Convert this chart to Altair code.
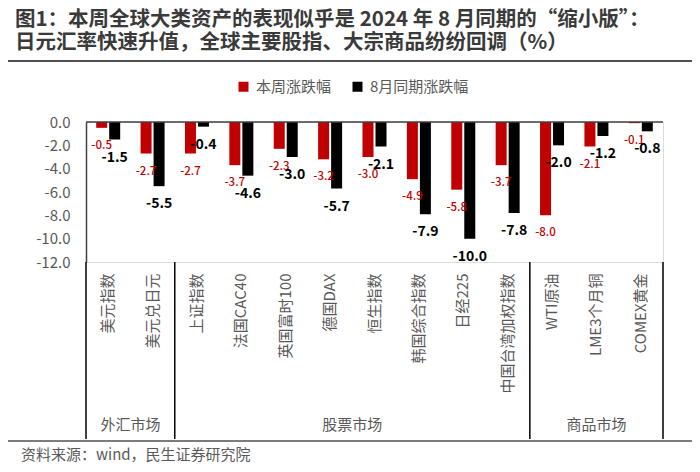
import altair as alt
import pandas as pd

# ---------------- data ----------------
categories = ["美元指数", "美元兑日元", "上证指数", "法国CAC40", "英国富时100", "德国DAX",
              "恒生指数", "韩国综合指数", "日经225", "中国台湾加权指数",
              "WTI原油", "LME3个月铜", "COMEX黄金"]
series_names = ["本周涨跌幅", "8月同期涨跌幅"]
this_week = [-0.5, -2.7, -2.7, -3.7, -2.3, -3.2, -3.0, -4.9, -5.8, -3.7, -8.0, -2.1, -0.1]
aug_2024 = [-1.5, -5.5, -0.4, -4.6, -3.0, -5.7, -2.1, -7.9, -10.0, -7.8, -2.0, -1.2, -0.8]
y_ticks = [0, -2, -4, -6, -8, -10, -12]
groups = ["外汇市场", "股票市场", "商品市场"]
group_sizes = [2, 8, 3]

title1 = "图1：本周全球大类资产的表现似乎是 2024 年 8 月同期的“缩小版”："
title2 = "日元汇率快速升值，全球主要股指、大宗商品纷纷回调（%）"
source = "资料来源：wind，民生证券研究院"

FONT = "Noto Sans CJK SC"
RED = "#C00000"
BLACK = "#000000"
GRAY = "#595959"

rows = []
for c, a, b in zip(categories, this_week, aug_2024):
    rows.append({"cat": c, "series": series_names[0], "value": a, "label": f"{a:.1f}"})
    rows.append({"cat": c, "series": series_names[1], "value": b, "label": f"{b:.1f}"})
df = pd.DataFrame(rows)

# group boundaries and centres
sep_left, grp_even, grp_odd = [], [], []
start = 0
for g, n in zip(groups, group_sizes):
    sep_left.append({"cat": categories[start]})
    if n % 2 == 0:
        grp_even.append({"cat": categories[start + n // 2 - 1], "g": g})
    else:
        grp_odd.append({"cat": categories[start + n // 2], "g": g})
    start += n
sep_right = [{"cat": categories[-1]}]

x_scale = alt.Scale(domain=categories, paddingInner=0, paddingOuter=0)
x_axis = alt.Axis(title=None, orient="bottom", labelAngle=270, labelAlign="right",
                  labelBaseline="middle", labelPadding=11, ticks=False, domain=False,
                  labelFontSize=15, labelColor=GRAY, labelFont=FONT, labelOverlap=False)
y_scale = alt.Scale(domain=[-12, 0], nice=False, zero=True)
y_axis = alt.Axis(title=None, values=y_ticks, grid=False, ticks=False, domain=True,
                  domainColor="#404040", domainWidth=1.5, labelPadding=16, labelFontSize=15,
                  labelColor=GRAY, labelFont=FONT, labelOverlap=False, labelBound=False,
                  labelExpr="replace(format(datum.value, '.1f'), '\u2212', '-')")
xoff_scale = alt.Scale(domain=series_names, paddingInner=0.154, paddingOuter=0.784)

X = alt.X("cat:N", sort=categories, scale=x_scale, axis=x_axis)
Y = alt.Y("value:Q", scale=y_scale, axis=y_axis)
XO = alt.XOffset("series:N", sort=series_names, scale=xoff_scale)

base = alt.Chart(df)

bars = base.mark_bar().encode(
    x=X, xOffset=XO, y=Y,
    color=alt.Color("series:N", sort=series_names,
                    scale=alt.Scale(domain=series_names, range=[RED, BLACK]),
                    legend=alt.Legend(title=None, orient="none", legendX=150, legendY=-43,
                                      direction="horizontal", symbolType="square",
                                      symbolSize=100, symbolStrokeWidth=0,
                                      labelFontSize=15, labelColor=GRAY, labelFont=FONT,
                                      columnPadding=18, labelOffset=5, padding=0)),
)

lab_red = base.transform_filter(alt.datum.series == series_names[0]).mark_text(
    dy=18, baseline="middle", align="center", fontSize=11.5, color=RED, font=FONT,
    fontWeight=500
).encode(x=X, xOffset=XO, y=Y, text="label:N")
lab_black = base.transform_filter(alt.datum.series == series_names[1]).mark_text(
    dy=18, baseline="middle", align="center", fontSize=14, fontWeight="bold",
    color=BLACK, font=FONT
).encode(x=X, xOffset=XO, y=Y, text="label:N")

zero_rule = alt.Chart(pd.DataFrame({"value": [0]})).mark_rule(
    color="#404040", strokeWidth=1.5).encode(y=Y)

seps_l = alt.Chart(pd.DataFrame(sep_left)).mark_rule(color=BLACK, strokeWidth=1.5).encode(
    x=alt.X("cat:N", sort=categories, scale=x_scale, axis=x_axis, bandPosition=0),
    y=alt.value(140), y2=alt.value(317))
seps_r = alt.Chart(pd.DataFrame(sep_right)).mark_rule(color=BLACK, strokeWidth=1.5).encode(
    x=alt.X("cat:N", sort=categories, scale=x_scale, axis=x_axis, bandPosition=1),
    y=alt.value(140), y2=alt.value(317))

g_even = alt.Chart(pd.DataFrame(grp_even)).mark_text(
    fontSize=15, color=GRAY, font=FONT, baseline="middle", align="center").encode(
    x=alt.X("cat:N", sort=categories, scale=x_scale, axis=x_axis, bandPosition=1),
    y=alt.value(303), text="g:N")
g_odd = alt.Chart(pd.DataFrame(grp_odd)).mark_text(
    fontSize=15, color=GRAY, font=FONT, baseline="middle", align="center").encode(
    x=alt.X("cat:N", sort=categories, scale=x_scale, axis=x_axis, bandPosition=0.5),
    y=alt.value(303), text="g:N")

t1 = alt.Chart(pd.DataFrame({"t": [title1]})).mark_text(
    align="left", baseline="middle", fontSize=20.5, fontWeight="bold", color="#3a3a3a",
    font=FONT).encode(x=alt.value(-71), y=alt.value(-102), text="t:N")
t2 = alt.Chart(pd.DataFrame({"t": [title2]})).mark_text(
    align="left", baseline="middle", fontSize=20.5, fontWeight="bold", color="#3a3a3a",
    font=FONT).encode(x=alt.value(-71), y=alt.value(-79), text="t:N")
src = alt.Chart(pd.DataFrame({"t": [source]})).mark_text(
    align="left", baseline="middle", fontSize=15, color=GRAY,
    font=FONT).encode(x=alt.value(-65), y=alt.value(333), text="t:N")

top_line = alt.Chart(pd.DataFrame({"a": [0]})).mark_rule(color="#505050", strokeWidth=2).encode(
    x=alt.value(-79), x2=alt.value(606), y=alt.value(-61))
bot_line = alt.Chart(pd.DataFrame({"a": [0]})).mark_rule(color="#505050", strokeWidth=1.5).encode(
    x=alt.value(-79), x2=alt.value(606), y=alt.value(319))

chart = alt.layer(
    bars, lab_red, lab_black, zero_rule, seps_l, seps_r, g_even, g_odd,
    t1, t2, src, top_line, bot_line
).properties(
    width=577, height=140,
    padding={"left": 78, "top": 114, "right": 29, "bottom": 202},
    autosize=alt.AutoSizeParams(type="none"),
).configure_view(stroke=None).configure(font=FONT).configure_axis(labelOverlap=False)

chart.save("out.html", embed_options={"renderer": "svg", "actions": False})
